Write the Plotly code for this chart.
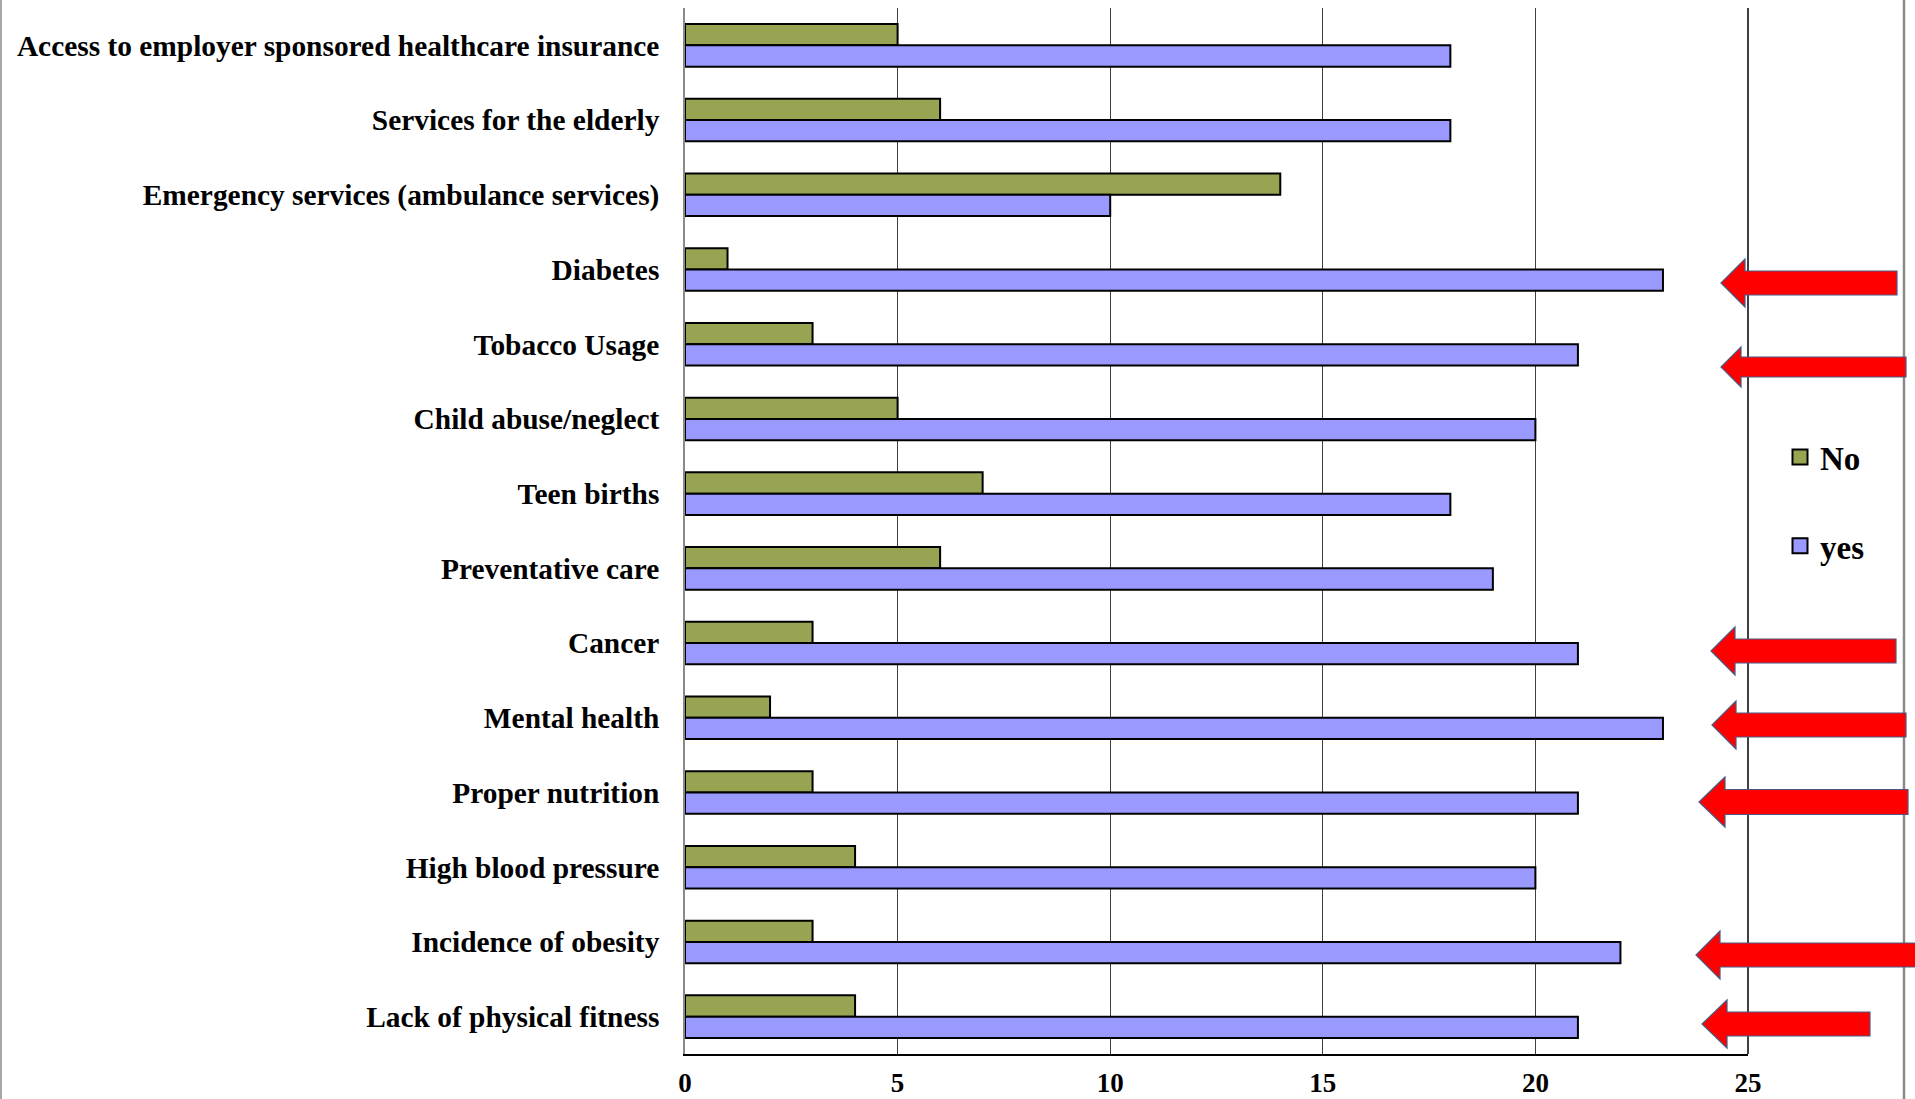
import plotly.graph_objects as go

# Survey responses per health issue (listed top to bottom)
categories = [
    "Access to employer sponsored healthcare insurance",
    "Services for the elderly",
    "Emergency services (ambulance services)",
    "Diabetes",
    "Tobacco Usage",
    "Child abuse/neglect",
    "Teen births",
    "Preventative care",
    "Cancer",
    "Mental health",
    "Proper nutrition",
    "High blood pressure",
    "Incidence of obesity",
    "Lack of physical fitness",
]
no_counts = [5, 6, 14, 1, 3, 5, 7, 6, 3, 2, 3, 4, 3, 4]
yes_counts = [18, 18, 10, 23, 21, 20, 18, 19, 21, 23, 21, 20, 22, 21]
x_ticks = [0, 5, 10, 15, 20, 25]

W, H = 1915, 1099
L, R, T, B = 685, 1748, 8, 1054  # plot area in pixels

FONT = "Liberation Serif"
NO_COLOR = "#99A452"
YES_COLOR = "#9999FF"

fig = go.Figure()
fig.add_trace(go.Bar(
    y=categories, x=no_counts, name="No", orientation="h",
    marker=dict(color=NO_COLOR, line=dict(color="#000000", width=2)),
    showlegend=False,
))
fig.add_trace(go.Bar(
    y=categories, x=yes_counts, name="yes", orientation="h",
    marker=dict(color=YES_COLOR, line=dict(color="#000000", width=2)),
    showlegend=False,
))
# legend keys: square swatches matching the bar fills
for name, col in [("No", NO_COLOR), ("yes", YES_COLOR)]:
    fig.add_trace(go.Scatter(
        x=[None], y=[None], mode="markers", name=name, legendgroup=name,
        marker=dict(symbol="square", size=15, color=col,
                    line=dict(color="#000000", width=2)),
    ))


def px_to_paper(px, py):
    return (px - L) / (R - L), (B - py) / (B - T)


def arrow_path(tip, base, right, cy, head, shaft):
    pts = [
        (tip, cy), (base, cy - head), (base, cy - shaft), (right, cy - shaft),
        (right, cy + shaft), (base, cy + shaft), (base, cy + head),
    ]
    conv = [px_to_paper(x, y) for x, y in pts]
    return "M" + " L".join(f"{x:.5f},{y:.5f}" for x, y in conv) + " Z"


# Highlight arrows pointing at the key issues: tip, head base, tail, centre y, half-heights
arrows = [
    (1721, 1745, 1897, 283, 24, 12),
    (1721, 1741, 1906, 367, 20, 10),
    (1711, 1735, 1896, 651, 24, 12),
    (1712, 1736, 1906, 725, 24, 12),
    (1699, 1725, 1908, 802, 25, 12.5),
    (1696, 1720, 1930, 955, 24, 12),
    (1702, 1727, 1870, 1024, 24, 12),
]

shapes = []
# chart frame edges
for xpx, col, w in [(1, "#8a8a8a", 1.5), (1904, "#8a8a8a", 2.5)]:
    xp, _ = px_to_paper(xpx, 0)
    shapes.append(dict(type="line", xref="paper", yref="paper",
                       x0=xp, x1=xp, y0=px_to_paper(0, H + 5)[1], y1=px_to_paper(0, -5)[1],
                       line=dict(color=col, width=w), layer="above"))
# right edge of plot area
shapes.append(dict(type="line", xref="paper", yref="paper", x0=1, x1=1, y0=0, y1=1,
                   line=dict(color="#000000", width=1.5), layer="above"))
for a in arrows:
    shapes.append(dict(type="path", xref="paper", yref="paper", path=arrow_path(*a),
                       fillcolor="#FF0000", line=dict(color="#4A5A85", width=1.2),
                       layer="above"))

fig.update_layout(
    width=W, height=H,
    margin=dict(l=L, r=W - R, t=T, b=H - B, pad=0, autoexpand=False),
    paper_bgcolor="#FFFFFF", plot_bgcolor="#FFFFFF",
    barmode="group", bargap=0.43, bargroupgap=0,
    font=dict(family=FONT, color="#000000"),
    showlegend=True,
    legend=dict(
        x=px_to_paper(1780, 0)[0], y=px_to_paper(0, 429)[1],
        xanchor="left", yanchor="top",
        font=dict(family=FONT, size=33, weight="bold", color="#000000"),
        traceorder="grouped", tracegroupgap=43,
        itemsizing="trace",
        bgcolor="rgba(0,0,0,0)", borderwidth=0,
    ),
    xaxis=dict(
        range=[0, 25], tickvals=x_ticks, ticktext=[str(v) for v in x_ticks],
        showgrid=True, gridcolor="#404040", gridwidth=1,
        zeroline=False, showline=True, linecolor="#000000", linewidth=1.5,
        ticks="", ticklabelstandoff=4, automargin=False,
        tickfont=dict(family=FONT, size=27, weight="bold", color="#000000"),
        fixedrange=True,
    ),
    yaxis=dict(
        categoryorder="array", categoryarray=categories,
        range=[len(categories) - 0.5, -0.5],
        showgrid=False, zeroline=False, showline=True, linecolor="#8a8a8a", linewidth=1.5,
        ticks="", ticklabelstandoff=18, automargin=False,
        tickfont=dict(family=FONT, size=29.4, weight="bold", color="#000000"),
        fixedrange=True,
    ),
    shapes=shapes,
)

fig.write_html("out.html")
